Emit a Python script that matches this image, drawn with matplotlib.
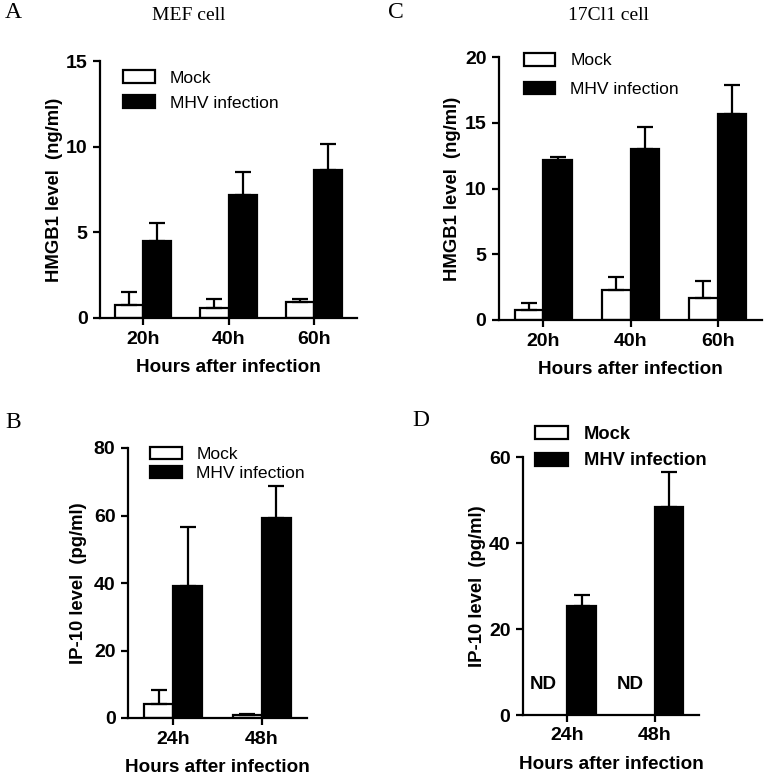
import numpy as np
import matplotlib
matplotlib.use("Agg")
import matplotlib.pyplot as plt
from matplotlib.patches import Patch

plt.rcParams['font.family'] = ['Liberation Sans', 'DejaVu Sans']

# ---- data ----
hours_ac = ["20h", "40h", "60h"]
hours_bd = ["24h", "48h"]

a_mock = [0.76, 0.60, 0.95]
a_mock_err = [0.77, 0.50, 0.15]
a_mhv = [4.50, 7.15, 8.65]
a_mhv_err = [1.06, 1.35, 1.50]

c_mock = [0.76, 2.28, 1.70]
c_mock_err = [0.51, 1.02, 1.30]
c_mhv = [12.13, 13.02, 15.69]
c_mhv_err = [0.23, 1.65, 2.18]

b_mock = [4.2, 0.8]
b_mock_err = [4.0, 0.5]
b_mhv = [39.2, 59.3]
b_mhv_err = [17.3, 9.4]

d_mhv = [25.3, 48.4]
d_mhv_err = [2.65, 8.1]

W, H = 767, 780
fig = plt.figure(figsize=(W / 100, H / 100), dpi=100)


def px_axes(x0, y0, x1, y1):
    return fig.add_axes([x0 / W, 1 - y1 / H, (x1 - x0) / W, (y1 - y0) / H])


def style_axes(ax, labels, ymax, yticks, ylabel, ypad=3):
    n = len(labels)
    ax.set_xlim(-0.51, n - 1 + 0.51)
    ax.set_ylim(0, ymax)
    ax.set_yticks(yticks)
    ax.set_xticks(range(n))
    ax.set_xticklabels(labels)
    for s in ["top", "right"]:
        ax.spines[s].set_visible(False)
    for s in ["left", "bottom"]:
        ax.spines[s].set_linewidth(1.6)
    ax.tick_params(width=1.6, length=5, labelsize=14, pad=4)
    for t in ax.get_xticklabels() + ax.get_yticklabels():
        t.set_fontweight("bold")
    ax.set_xlabel("Hours after infection", fontsize=13.6, fontweight="bold", labelpad=8)
    ax.set_ylabel(ylabel, fontsize=13.3, fontweight="bold", labelpad=ypad)


def draw_bars(ax, mock, mock_err, mhv, mhv_err):
    x = np.arange(len(mhv))
    bw = 0.33
    ek = dict(elinewidth=1.6, capthick=1.6, ecolor="black")
    if mock is not None:
        ax.bar(x - bw / 2, mock, bw, color="white", edgecolor="black", linewidth=1.6,
               yerr=[np.zeros(len(mock)), mock_err], capsize=5.5, error_kw=ek,
               label="Mock", zorder=2)
    ax.bar(x + bw / 2, mhv, bw, color="black", edgecolor="black", linewidth=1.6,
           yerr=[np.zeros(len(mhv)), mhv_err], capsize=5.5, error_kw=ek,
           label="MHV infection", zorder=2)


serif = ['Liberation Serif', 'DejaVu Serif']
leg_kw = dict(frameon=False, handlelength=1.8, handleheight=0.72, handletextpad=0.85)

# ---- A: MEF cell ----
axA = px_axes(100, 61, 357, 318)
draw_bars(axA, a_mock, a_mock_err, a_mhv, a_mhv_err)
style_axes(axA, hours_ac, 15, [0, 5, 10, 15], "HMGB1 level  (ng/ml)", ypad=2)
axA.legend(loc="upper left", bbox_to_anchor=(0.03, 1.025), fontsize=12.6,
           labelspacing=0.55, **leg_kw)

# ---- C: 17Cl1 cell ----
axC = px_axes(499, 57, 762, 320)
draw_bars(axC, c_mock, c_mock_err, c_mhv, c_mhv_err)
style_axes(axC, hours_ac, 20, [0, 5, 10, 15, 20], "HMGB1 level  (ng/ml)", ypad=3)
axC.legend(loc="upper left", bbox_to_anchor=(0.035, 1.075), fontsize=12.6,
           labelspacing=0.75, **leg_kw)

# ---- B: IP-10, MEF ----
axB = px_axes(128, 448, 307, 718)
draw_bars(axB, b_mock, b_mock_err, b_mhv, b_mhv_err)
style_axes(axB, hours_bd, 80, [0, 20, 40, 60, 80], "IP-10 level  (pg/ml)", ypad=5)
axB.legend(loc="upper left", bbox_to_anchor=(0.035, 1.062), fontsize=12.6,
           labelspacing=0.2, **leg_kw)

# ---- D: IP-10, 17Cl1 ----
axD = px_axes(523, 457, 699, 715)
draw_bars(axD, None, None, d_mhv, d_mhv_err)
style_axes(axD, hours_bd, 60, [0, 20, 40, 60], "IP-10 level  (pg/ml)", ypad=2)
for i in range(len(hours_bd)):
    axD.text(i - 0.165 - 0.11, 7, "ND", ha="center", va="center",
             fontsize=13.5, fontweight="bold")
handles = [Patch(facecolor="white", edgecolor="black", linewidth=1.6, label="Mock"),
           Patch(facecolor="black", edgecolor="black", linewidth=1.6, label="MHV infection")]
axD.legend(handles=handles, loc="upper left", bbox_to_anchor=(-0.025, 1.183),
           prop=dict(size=13.2, weight="bold"), labelspacing=0.5, **leg_kw)

# ---- panel letters and titles ----
fig.text(5 / W, 1 - 13 / H, "A", fontsize=17, va="center", family=serif)
fig.text(189 / W, 1 - 15 / H, "MEF cell", fontsize=14, ha="center", va="center", family=serif)
fig.text(388 / W, 1 - 13 / H, "C", fontsize=17, va="center", family=serif)
fig.text(608 / W, 1 - 15 / H, "17Cl1 cell", fontsize=14, ha="center", va="center", family=serif)
fig.text(5 / W, 1 - 423 / H, "B", fontsize=17, va="center", family=serif)
fig.text(412 / W, 1 - 420 / H, "D", fontsize=17, va="center", family=serif)

fig.savefig("out.png", dpi=100)
